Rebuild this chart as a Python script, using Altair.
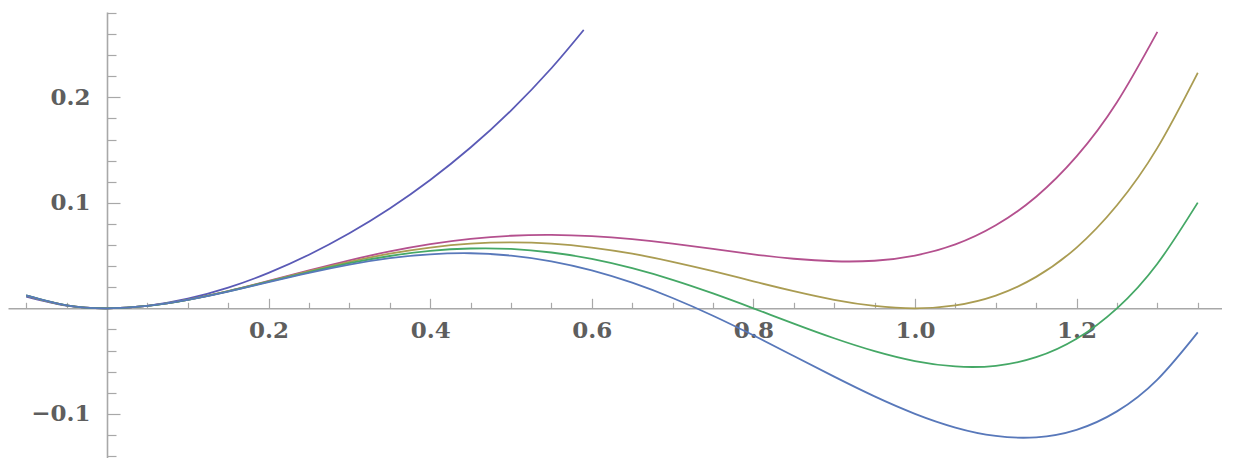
import altair as alt
import pandas as pd

# ---- data ----
x_steep = [-0.1, -0.05, 0.0, 0.05, 0.1, 0.15, 0.2, 0.25, 0.3, 0.35, 0.4, 0.45, 0.5, 0.55, 0.59]
y_steep = [0.0111, 0.0026, 0.0, 0.0024, 0.0091, 0.0196, 0.0336, 0.0508, 0.0711, 0.0946,
           0.1216, 0.1524, 0.1875, 0.2276, 0.2639]

x_full = [-0.1, -0.05, 0.0, 0.05, 0.1, 0.15, 0.2, 0.25, 0.3, 0.35, 0.4, 0.45, 0.5, 0.55,
          0.6, 0.65, 0.7, 0.75, 0.8, 0.85, 0.9, 0.95, 1.0, 1.05, 1.1, 1.15, 1.2, 1.25, 1.3, 1.35]

y_magenta = [0.0121, 0.0028, 0.0, 0.0023, 0.0082, 0.0164, 0.0260, 0.0359, 0.0455, 0.0539,
             0.0608, 0.0658, 0.0688, 0.0696, 0.0684, 0.0655, 0.0613, 0.0563, 0.0512, 0.0470,
             0.0446, 0.0451, 0.0500, 0.0606, 0.0787, 0.1058, 0.1440, 0.1953, 0.2620]
y_gold = [0.0121, 0.0028, 0.0, 0.0023, 0.0081, 0.0163, 0.0256, 0.0352, 0.0441, 0.0518,
          0.0576, 0.0613, 0.0625, 0.0613, 0.0576, 0.0518, 0.0441, 0.0352, 0.0256, 0.0163,
          0.0081, 0.0023, 0.0, 0.0028, 0.0121, 0.0298, 0.0576, 0.0977, 0.1521, 0.2233]
y_green = [0.0122, 0.0028, 0.0, 0.0023, 0.0081, 0.0161, 0.0252, 0.0344, 0.0428, 0.0496,
           0.0544, 0.0567, 0.0563, 0.0529, 0.0468, 0.0380, 0.0270, 0.0141, 0.0, -0.0145,
           -0.0284, -0.0406, -0.0500, -0.0551, -0.0545, -0.0463, -0.0288, 0.0, 0.0423, 0.1002]
y_blue = [0.0122, 0.0028, 0.0, 0.0023, 0.0080, 0.0159, 0.0248, 0.0336, 0.0414, 0.0475,
          0.0512, 0.0522, 0.0500, 0.0446, 0.0360, 0.0243, 0.0098, -0.0070, -0.0256, -0.0452,
          -0.0648, -0.0835, -0.1000, -0.1130, -0.1210, -0.1223, -0.1152, -0.0977, -0.0676, -0.0228]

series_names = ["1", "2", "3", "4", "5"]
series_colors = ["#5a5ab6", "#b4508e", "#aa9c52", "#45a866", "#5878ba"]

x_major = [0.2, 0.4, 0.6, 0.8, 1.0, 1.2]
x_minor = [-0.1, -0.05, 0.05, 0.1, 0.15, 0.25, 0.3, 0.35, 0.45, 0.5, 0.55, 0.65, 0.7, 0.75,
           0.85, 0.9, 0.95, 1.05, 1.1, 1.15, 1.25, 1.3, 1.35]
y_major = [-0.1, 0.1, 0.2]
y_minor = [-0.14, -0.12, -0.08, -0.06, -0.04, -0.02, 0.02, 0.04, 0.06, 0.08, 0.12, 0.14,
           0.16, 0.18, 0.22, 0.24, 0.26, 0.28]

rows = []
for xv, yv in zip(x_steep, y_steep):
    rows.append({"s": "1", "x": xv, "y": yv})
for name, ys in zip(["2", "3", "4", "5"], [y_magenta, y_gold, y_green, y_blue]):
    for xv, yv in zip(x_full, ys):
        rows.append({"s": name, "x": xv, "y": yv})
df = pd.DataFrame(rows)

# ---- layout ----
W, H = 1214, 446
x0_px, y0_px = 99, 296.3
xscale = alt.Scale(domain=[-0.1225, 1.38], zero=False, nice=False)
yscale = alt.Scale(domain=[-0.1419, 0.2809], zero=False, nice=False)

AX = "#a8a8a8"
LAB = "#5e5e5e"
FONT = "DejaVu Serif"
FS = 23

base = alt.Chart(df)

lines = base.mark_line(interpolate="natural", strokeWidth=1.8).encode(
    x=alt.X("x:Q", scale=xscale, title=None,
            axis=alt.Axis(orient="top", offset=-y0_px, values=x_major, labels=False,
                          tickSize=10, tickColor=AX, tickWidth=1.2, domain=True,
                          domainColor=AX, domainWidth=1.6, grid=False)),
    y=alt.Y("y:Q", scale=yscale, title=None,
            axis=alt.Axis(orient="right", offset=-(W - x0_px), values=y_major, labels=False,
                          tickSize=13, tickColor=AX, tickWidth=1.2, domain=True,
                          domainColor=AX, domainWidth=1.6, grid=False)),
    color=alt.Color("s:N", scale=alt.Scale(domain=series_names, range=series_colors), legend=None),
    detail="s:N",
)

minor = base.mark_point(opacity=0).encode(
    x=alt.X("x:Q", scale=xscale, title=None,
            axis=alt.Axis(orient="top", offset=-y0_px, values=x_minor, labels=False,
                          tickSize=6, tickColor=AX, tickWidth=1.2, domain=False, grid=False)),
    y=alt.Y("y:Q", scale=yscale, title=None,
            axis=alt.Axis(orient="right", offset=-(W - x0_px), values=y_minor, labels=False,
                          tickSize=9, tickColor=AX, tickWidth=1.2, domain=False, grid=False)),
)

labels = base.mark_point(opacity=0).encode(
    x=alt.X("x:Q", scale=xscale, title=None,
            axis=alt.Axis(orient="bottom", offset=-(H - y0_px), values=x_major, format=".1f",
                          ticks=False, tickSize=0, domain=False, grid=False,
                          labelFont=FONT, labelFontWeight="bold", labelFontSize=FS,
                          labelColor=LAB, labelPadding=11, labelFlush=False)),
    y=alt.Y("y:Q", scale=yscale, title=None,
            axis=alt.Axis(orient="left", offset=-x0_px, values=y_major, format=".1f",
                          ticks=False, tickSize=0, domain=False, grid=False,
                          labelFont=FONT, labelFontWeight="bold", labelFontSize=FS,
                          labelColor=LAB, labelPadding=17, labelFlush=False)),
)

chart = (
    alt.layer(minor, labels, lines)
    .resolve_axis(x="independent", y="independent")
    .properties(width=W, height=H,
                padding={"left": 0, "top": 4, "right": 0, "bottom": 0})
    .configure_view(stroke=None)
)

chart.save("out.html", embed_options={"renderer": "svg", "actions": False})
